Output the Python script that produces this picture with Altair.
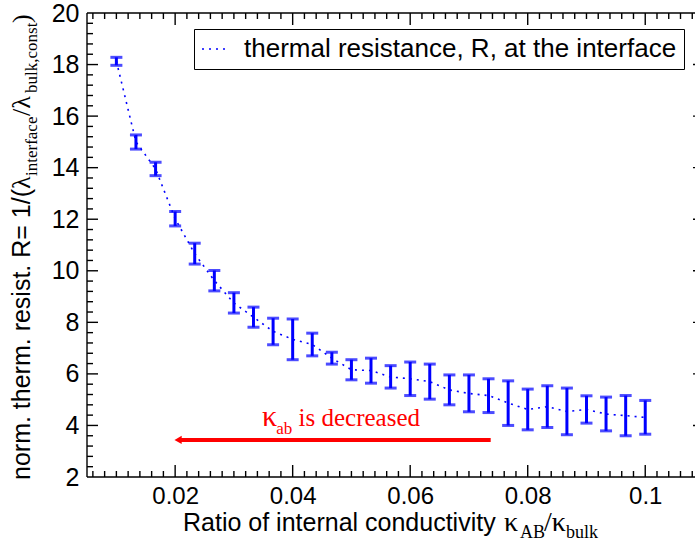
import altair as alt
import pandas as pd

# ---- data ----
ratio = [0.01, 0.01333, 0.01667, 0.02, 0.02333, 0.02667, 0.03, 0.03333, 0.03667, 0.04,
         0.04333, 0.04667, 0.05, 0.05333, 0.05667, 0.06, 0.06333, 0.06667, 0.07, 0.07333,
         0.07667, 0.08, 0.08333, 0.08667, 0.09, 0.09333, 0.09667, 0.1]
r_mean = [18.13, 15.00, 13.95, 12.02, 10.66, 9.62, 8.75, 8.20, 7.65, 7.34,
          7.14, 6.61, 6.16, 6.13, 5.88, 5.81, 5.70, 5.38, 5.24, 5.16,
          4.87, 4.62, 4.73, 4.54, 4.62, 4.44, 4.38, 4.31]
r_low = [17.97, 14.72, 13.69, 11.74, 10.26, 9.22, 8.36, 7.81, 7.13, 6.55,
         6.70, 6.38, 5.77, 5.64, 5.45, 5.16, 5.02, 4.80, 4.53, 4.50,
         4.00, 3.83, 3.92, 3.64, 4.09, 3.79, 3.60, 3.66]
r_high = [18.28, 15.27, 14.21, 12.30, 11.07, 10.01, 9.15, 8.59, 8.16, 8.13,
          7.58, 6.84, 6.55, 6.61, 6.32, 6.46, 6.38, 5.96, 5.96, 5.81,
          5.73, 5.41, 5.54, 5.45, 5.15, 5.10, 5.16, 4.97]
series_label = "thermal resistance, R, at the interface"

x_major = [0.02, 0.04, 0.06, 0.08, 0.1]
x_minor = [round(0.004 + 0.002 * i, 3) for i in range(1, 54) if round(0.004 + 0.002 * i, 3) not in x_major]
y_major = [4, 6, 8, 10, 12, 14, 16, 18]
y_labels = [2, 4, 6, 8, 10, 12, 14, 16, 18, 20]
y_minor = [round(2 + 0.4 * i, 1) for i in range(1, 45) if (i % 5) != 0]

arrow_x_start = [0.0737]
arrow_x_end = [0.0205]
arrow_y = [3.44]

# ---- layout constants ----
W, H = 608, 464
XR = 617  # pixel position of x = 0.11 (right frame lies just outside the window)
BLUE = "#0000ff"
SANS = "Liberation Sans"
SERIF = "Liberation Serif"

df = pd.DataFrame({"ratio": ratio, "R": r_mean, "lo": r_low, "hi": r_high,
                   "series": [series_label] * len(ratio)})

xscale = alt.Scale(domain=[0.005, 0.11], range=[0, XR], nice=False, zero=False)
yscale = alt.Scale(domain=[2, 20], nice=False, zero=False)
xaxis = alt.Axis(values=x_major, format=".2~f", ticks=False, tickSize=0, domain=False, grid=False,
                 labelFont=SANS, labelFontSize=24, labelColor="black", labelPadding=7,
                 labelFlush=False, labelOverlap=False, title=None)
yaxis = alt.Axis(values=y_labels, format="d", ticks=False, tickSize=0, domain=False, grid=False,
                 labelFont=SANS, labelFontSize=25, labelColor="black", labelPadding=8,
                 labelFlush=False, labelOverlap=False, title=None)


def X(f):
    return alt.X(f"{f}:Q", scale=xscale, axis=xaxis)


def Y(f):
    return alt.Y(f"{f}:Q", scale=yscale, axis=yaxis)


line = alt.Chart(df).mark_line(strokeDash=[2, 5], strokeWidth=1.6).encode(
    x=X("ratio"), y=Y("R"),
    color=alt.Color("series:N", scale=alt.Scale(range=[BLUE]),
                    legend=alt.Legend(title=None, orient="none", legendX=107, legendY=16,
                                      strokeColor="black", fillColor="white", padding=7,
                                      symbolType="stroke", symbolStrokeWidth=1.6,
                                      symbolDash=[2, 5], symbolSize=576,
                                      labelFont=SANS, labelFontSize=26, labelColor="black",
                                      labelOffset=17, labelLimit=700, cornerRadius=0)))

bars = alt.Chart(df).mark_rule(color=BLUE, strokeWidth=3).encode(
    x=X("ratio"), y=Y("lo"), y2="hi")
cap_hi = alt.Chart(df).mark_tick(orient="horizontal", size=12, thickness=3, color=BLUE).encode(
    x=X("ratio"), y=Y("hi"))
cap_lo = alt.Chart(df).mark_tick(orient="horizontal", size=12, thickness=3, color=BLUE).encode(
    x=X("ratio"), y=Y("lo"))

# ---- inward ticks and frame ----
FR = dict(color="black", strokeWidth=1.4)
xmaj = pd.DataFrame({"ratio": x_major})
xmin = pd.DataFrame({"ratio": x_minor})
ymaj = pd.DataFrame({"R": y_major})
ymin = pd.DataFrame({"R": y_minor})

ticks = [
    alt.Chart(xmaj).mark_rule(**FR).encode(x=X("ratio"), y=alt.value(H), y2=alt.value(H - 12)),
    alt.Chart(xmin).mark_rule(**FR).encode(x=X("ratio"), y=alt.value(H), y2=alt.value(H - 6)),
    alt.Chart(xmaj).mark_rule(**FR).encode(x=X("ratio"), y=alt.value(0), y2=alt.value(12)),
    alt.Chart(xmin).mark_rule(**FR).encode(x=X("ratio"), y=alt.value(0), y2=alt.value(6)),
    alt.Chart(ymaj).mark_rule(**FR).encode(y=Y("R"), x=alt.value(0), x2=alt.value(11)),
    alt.Chart(ymin).mark_rule(**FR).encode(y=Y("R"), x=alt.value(0), x2=alt.value(6)),
    alt.Chart(ymaj).mark_rule(**FR).encode(y=Y("R"), x=alt.value(XR), x2=alt.value(XR - 11)),
    alt.Chart(ymin).mark_rule(**FR).encode(y=Y("R"), x=alt.value(XR), x2=alt.value(XR - 6)),
]
one = pd.DataFrame({"a": [0]})
frame = [
    alt.Chart(one).mark_rule(**FR).encode(x=alt.value(0), x2=alt.value(XR), y=alt.value(0)),
    alt.Chart(one).mark_rule(**FR).encode(x=alt.value(0), x2=alt.value(XR), y=alt.value(H)),
    alt.Chart(one).mark_rule(**FR).encode(x=alt.value(0), y=alt.value(0), y2=alt.value(H)),
]

# ---- red arrow annotation ----
arr = pd.DataFrame({"ratio": arrow_x_start, "ratio2": arrow_x_end, "R": arrow_y})
arrow_line = alt.Chart(arr).mark_rule(color="#ff0000", strokeWidth=4).encode(
    x=X("ratio"), x2="ratio2", y=Y("R"))
arrow_head = alt.Chart(pd.DataFrame({"ratio": arrow_x_end, "R": arrow_y})).mark_point(
    shape="triangle-left", filled=True, color="#ff0000", size=70, opacity=1).encode(
    x=X("ratio"), y=Y("R"))

ann_df = pd.DataFrame({"ratio": [0.0348, 0.0372, 0.0410], "R": [3.99, 3.68, 3.99],
                       "t": ["κ", "ab", "is decreased"], "s": [30, 17, 25]})
annot = alt.Chart(ann_df).mark_text(font=SERIF, color="#ff0000", align="left",
                                    baseline="alphabetic").encode(
    x=X("ratio"), y=Y("R"), text="t:N", size=alt.Size("s:Q", scale=None, legend=None))


# ---- axis titles with sub-scripts (text pieces) ----
def piece(txt, px, py, font, size, angle=0):
    return alt.Chart(pd.DataFrame({"t": [txt]})).mark_text(
        font=font, fontSize=size, color="black", align="left", baseline="alphabetic",
        angle=angle).encode(text="t:N", x=alt.value(px), y=alt.value(py))


xt_base = 518
xtitle = [
    piece("Ratio of internal conductivity", 96, xt_base, SANS, 25),
    piece("κ", 417, xt_base, SERIF, 28),
    piece("AB", 433, xt_base + 7, SERIF, 18),
    piece("/κ", 457, xt_base, SERIF, 28),
    piece("bulk", 479, xt_base + 7, SERIF, 18),
]
yt_base = -57
ytitle = [
    piece("norm. therm. resist. R= 1/(", yt_base, 467, SANS, 25, 270),
    piece("λ", yt_base, 176, SERIF, 26, 270),
    piece("interface", yt_base + 7, 163, SERIF, 17, 270),
    piece("/λ", yt_base, 103, SERIF, 26, 270),
    piece("bulk,const", yt_base + 7, 80, SERIF, 17, 270),
    piece(")", yt_base, 10, SERIF, 26, 270),
]

chart = alt.layer(
    *frame, *ticks, line, bars, cap_hi, cap_lo, arrow_line, arrow_head, annot, *xtitle, *ytitle
).properties(
    width=W, height=H,
    padding={"left": 87, "top": 13, "right": 0, "bottom": 68},
    autosize=alt.AutoSizeParams(type="none"),
).configure_view(stroke=None)

chart.save("out.html", embed_options={"renderer": "svg", "actions": False})
